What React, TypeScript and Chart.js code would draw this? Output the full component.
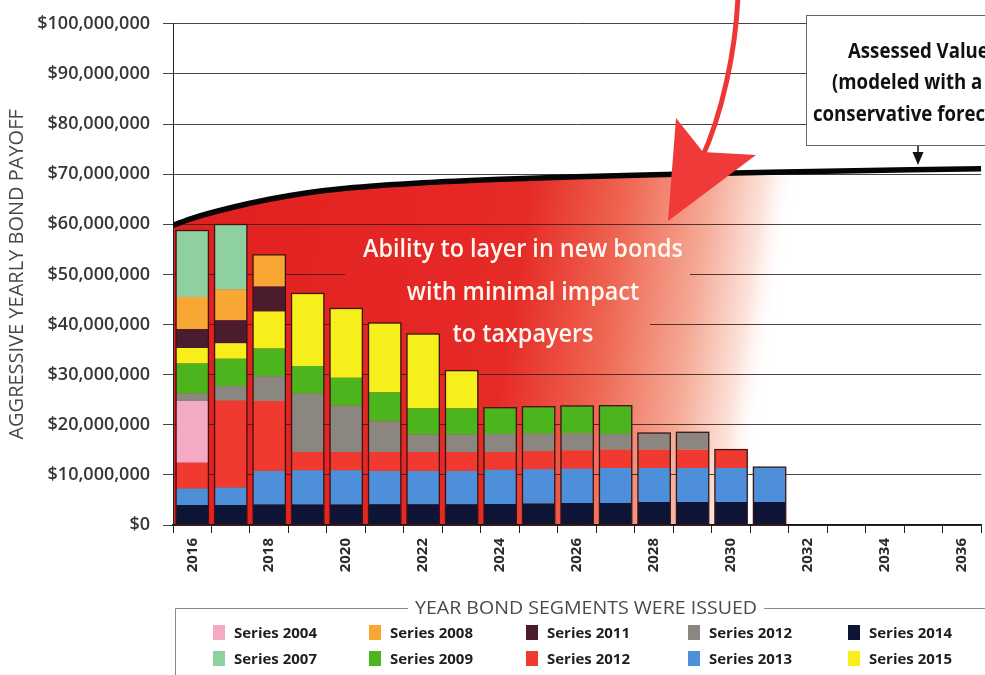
import React, { useEffect, useRef } from 'react';
import { Chart, registerables } from 'chart.js';

Chart.register(...registerables);

// ---------- data (values in millions of dollars) ----------
const years = ['2016', '2017', '2018', '2019', '2020', '2021', '2022', '2023', '2024', '2025', '2026',
  '2027', '2028', '2029', '2030', '2031', '2032', '2033', '2034', '2035', '2036'];

// stacked bottom -> top
const series2014 = [4.0, 4.0, 4.1, 4.1, 4.1, 4.15, 4.15, 4.15, 4.2, 4.3, 4.4, 4.4, 4.6, 4.6, 4.6, 4.6];
const series2013 = [3.3, 3.5, 6.65, 6.8, 6.8, 6.6, 6.6, 6.6, 6.8, 6.8, 6.8, 6.95, 6.75, 6.75, 6.75, 6.95];
const series2012Red = [5.1, 17.3, 14.0, 3.6, 3.6, 3.75, 3.75, 3.75, 3.5, 3.6, 3.65, 3.65, 3.65, 3.65, 3.7];
const series2004 = [12.35];
const series2012Gray = [1.45, 2.95, 4.95, 11.7, 9.3, 6.2, 3.5, 3.5, 3.65, 3.5, 3.4, 3.15, 3.35, 3.5];
const series2009 = [6.0, 5.4, 5.5, 5.5, 5.6, 5.8, 5.3, 5.3, 5.25, 5.4, 5.5, 5.65];
const series2015 = [3.1, 3.1, 7.4, 14.5, 13.8, 13.8, 14.8, 7.5];
const series2011 = [3.8, 4.6, 5.0];
const series2008 = [6.4, 6.1, 6.3];
const series2007 = [13.25, 13.0];

const seriesLabels = ['Series 2014', 'Series 2013', 'Series 2012', 'Series 2004', 'Series 2012',
  'Series 2009', 'Series 2015', 'Series 2011', 'Series 2008', 'Series 2007'];
const seriesData = [series2014, series2013, series2012Red, series2004, series2012Gray,
  series2009, series2015, series2011, series2008, series2007];

// assessed value curve
const assessedYears = [2015.5, 2016, 2017, 2018, 2019, 2020, 2022, 2024, 2026, 2028, 2031, 2036.5];
const assessedValues = [59.8, 61.2, 63.3, 65.0, 66.3, 67.2, 68.3, 69.0, 69.5, 69.9, 70.4, 71.1];

const yTickStep = 10;
const yMax = 100;

// ---------- styles ----------
const seriesColors = ['#0e1436', '#4d8fd8', '#f0392f', '#f4a9c4', '#8c8680',
  '#4cb51d', '#f6ef1c', '#4a1c2e', '#f8a634', '#8fd0a0'];
// legend grid: [column][row] -> dataset index
const legendLayout = [[3, 9], [8, 5], [7, 2], [4, 1], [0, 6]];
const FONT = '"Open Sans", "DejaVu Sans", sans-serif';

function redGradient(ctx: CanvasRenderingContext2D, chart: any) {
  const xs = chart.scales.x2;
  const x0 = xs.getPixelForValue(2015.5);
  const x1 = xs.getPixelForValue(2030.9);
  const g = ctx.createLinearGradient(x0, 300, x1, 300 + (x1 - x0) * 0.15);
  g.addColorStop(0, 'rgb(224,32,32)');
  g.addColorStop(0.56, 'rgb(230,42,38)');
  g.addColorStop(0.72, 'rgb(238,102,82)');
  g.addColorStop(0.86, 'rgb(245,170,150)');
  g.addColorStop(0.95, 'rgb(252,228,220)');
  g.addColorStop(1, 'rgba(255,255,255,0)');
  return g;
}

function scaleFor(ctx: CanvasRenderingContext2D, font: string, sample: string, target: number) {
  ctx.save();
  ctx.font = font;
  const w = ctx.measureText(sample).width;
  ctx.restore();
  return target / w;
}

function drawText(ctx: CanvasRenderingContext2D, text: string, x: number, y: number, font: string,
  sx: number, color: string, align: 'left' | 'center' = 'left') {
  ctx.save();
  ctx.font = font;
  ctx.fillStyle = color;
  ctx.textAlign = 'left';
  ctx.textBaseline = 'alphabetic';
  const w = ctx.measureText(text).width * sx;
  const left = align === 'center' ? x - w / 2 : x;
  ctx.translate(left, y);
  ctx.scale(sx, 1);
  ctx.fillText(text, 0, 0);
  ctx.restore();
  return w;
}

const decorPlugin = {
  id: 'decor',
  beforeDatasetsDraw(chart: any) {
    const ctx = chart.ctx as CanvasRenderingContext2D;
    const y = chart.scales.y;
    ctx.save();
    ctx.fillStyle = redGradient(ctx, chart);
    // text backgrounds hide the grid lines behind the annotation
    ctx.fillRect(345, y.getPixelForValue(59), 345, y.getPixelForValue(47) - y.getPixelForValue(59));
    ctx.fillRect(402, y.getPixelForValue(45), 248, y.getPixelForValue(37.5) - y.getPixelForValue(45));
    ctx.restore();
  },
  afterDatasetsDraw(chart: any) {
    const ctx = chart.ctx as CanvasRenderingContext2D;
    // outline each stacked bar
    const metas = chart.getSortedVisibleDatasetMetas().filter((m: any) => m.type === 'bar');
    ctx.save();
    ctx.strokeStyle = '#3b1410';
    ctx.lineWidth = 1.3;
    for (let i = 0; i < years.length; i++) {
      let top = Infinity, bottom = -Infinity, x: number | null = null, w = 0;
      for (const m of metas) {
        const el = m.data[i];
        const v = chart.data.datasets[m.index].data[i];
        if (!el || !v) continue;
        top = Math.min(top, el.y, el.base);
        bottom = Math.max(bottom, el.y, el.base);
        x = el.x; w = el.width;
      }
      if (x !== null) ctx.strokeRect(x - w / 2, top, w, bottom - top);
    }
    ctx.restore();

    // annotation text in red area
    const wf = `600 26px ${FONT}`;
    const s1 = scaleFor(ctx, wf, 'Ability to layer in new bonds', 320);
    drawText(ctx, 'Ability to layer in new bonds', 523, 257, wf, s1, '#fff7f2', 'center');
    drawText(ctx, 'with minimal impact', 523, 300, wf, s1, '#fff7f2', 'center');
    drawText(ctx, 'to taxpayers', 523, 342, wf, s1, '#fff7f2', 'center');

    // assessed value box
    ctx.save();
    ctx.fillStyle = '#ffffff';
    ctx.fillRect(806, 15, 220, 131);
    ctx.strokeStyle = '#666';
    ctx.lineWidth = 1;
    ctx.strokeRect(806.5, 15.5, 220, 130);
    ctx.restore();
    const bf = `700 21px ${FONT}`;
    const s2 = scaleFor(ctx, bf, 'conservative forec', 172);
    drawText(ctx, 'Assessed Value', 848, 58, bf, s2, '#111');
    drawText(ctx, '(modeled with a', 832, 89, bf, s2, '#111');
    drawText(ctx, 'conservative forecast)', 813, 121, bf, s2, '#111');
    // small arrow
    ctx.save();
    ctx.strokeStyle = '#111';
    ctx.fillStyle = '#111';
    ctx.lineWidth = 1.5;
    ctx.beginPath();
    ctx.moveTo(918, 146);
    ctx.lineTo(918, 156);
    ctx.stroke();
    ctx.beginPath();
    ctx.moveTo(912.5, 152);
    ctx.lineTo(923.5, 152);
    ctx.lineTo(918, 165);
    ctx.closePath();
    ctx.fill();
    ctx.restore();

    // big red arrow
    ctx.save();
    ctx.strokeStyle = '#ee3636';
    ctx.lineWidth = 5;
    ctx.beginPath();
    ctx.moveTo(738, -5);
    ctx.bezierCurveTo(736, 50, 722, 115, 701, 160);
    ctx.stroke();
    ctx.fillStyle = '#f03a3a';
    ctx.beginPath();
    ctx.moveTo(676, 118);
    ctx.lineTo(703, 152);
    ctx.lineTo(756, 155);
    ctx.lineTo(668, 221);
    ctx.closePath();
    ctx.fill();
    ctx.restore();
  },
  afterDraw(chart: any) {
    const ctx = chart.ctx as CanvasRenderingContext2D;
    // legend title and frame
    const tf = `400 18px ${FONT}`;
    const st = scaleFor(ctx, tf, 'YEAR BOND SEGMENTS WERE ISSUED', 342);
    const tw = drawText(ctx, 'YEAR BOND SEGMENTS WERE ISSUED', 586, 614, tf, st, '#4a4a4a', 'center');
    ctx.save();
    ctx.strokeStyle = '#8a8a8a';
    ctx.lineWidth = 1;
    ctx.beginPath();
    ctx.moveTo(175.5, 680);
    ctx.lineTo(175.5, 608.5);
    ctx.lineTo(586 - tw / 2 - 7, 608.5);
    ctx.moveTo(586 + tw / 2 + 7, 608.5);
    ctx.lineTo(990, 608.5);
    ctx.stroke();
    ctx.restore();

    const lf = `700 14px ${FONT}`;
    const sl = scaleFor(ctx, lf, 'Series 2004', 83);
    const colX = [213, 369, 526, 688, 848];
    const rowY = [633, 659];
    legendLayout.forEach((col, ci) => {
      col.forEach((di, ri) => {
        const ds = chart.data.datasets[di];
        ctx.save();
        ctx.fillStyle = ds.backgroundColor;
        ctx.fillRect(colX[ci], rowY[ri] - 8, 12, 15);
        ctx.restore();
        drawText(ctx, ds.label, colX[ci] + 21, rowY[ri] + 5, lf, sl, '#1e1e1e');
      });
    });
  },
};

export default function App() {
  const ref = useRef<HTMLCanvasElement>(null);
  useEffect(() => {
    const barSets = seriesData.map((d, i) => ({
      type: 'bar' as const,
      label: seriesLabels[i],
      data: d,
      backgroundColor: seriesColors[i],
      borderWidth: 0,
      barPercentage: 0.84,
      categoryPercentage: 1,
      grouped: false,
      stack: 'bonds',
      order: 1,
    }));
    const lineSet = {
      type: 'line' as const,
      label: 'Assessed Value',
      data: assessedYears.map((x, i) => ({ x, y: assessedValues[i] })),
      xAxisID: 'x2',
      borderColor: '#050505',
      borderWidth: 5.5,
      pointRadius: 0,
      cubicInterpolationMode: 'monotone' as const,
      fill: 'origin',
      backgroundColor: (c: any) => {
        const ch = c.chart;
        if (!ch.chartArea || !ch.scales.x2) return 'rgba(0,0,0,0)';
        return redGradient(ch.ctx, ch);
      },
      stack: 'assessed',
      order: 0,
    };
    const chart = new Chart(ref.current as HTMLCanvasElement, {
      type: 'bar',
      data: { labels: years, datasets: [...barSets, lineSet] as any },
      options: {
        animation: false,
        responsive: false,
        devicePixelRatio: 1,
        events: [],
        layout: { padding: { top: 20, right: 0, left: 0, bottom: 0 } },
        plugins: {
          legend: { display: false },
          tooltip: { enabled: false },
          filler: { drawTime: 'beforeDraw' } as any,
        },
        scales: {
          x: {
            stacked: true,
            offset: true,
            grid: { drawOnChartArea: false, drawTicks: true, tickLength: 8, color: '#222', offset: true },
            border: { display: true, color: '#111', width: 1.5 },
            ticks: {
              autoSkip: false,
              minRotation: 90,
              maxRotation: 90,
              padding: 5,
              color: '#2b2b2b',
              font: { family: FONT, size: 15, weight: 'bold' },
              callback: (_v: any, i: number) => (i % 2 === 0 ? years[i] : ''),
            },
            afterFit: (s: any) => { s.height = 150; },
          },
          x2: {
            type: 'linear',
            display: false,
            offset: false,
            grid: { offset: false },
            bounds: 'data',
            min: 2015.5,
            max: 2036.5,
          },
          y: {
            stacked: true,
            min: 0,
            max: yMax,
            grid: { color: 'rgba(50,32,30,0.85)', lineWidth: 1, drawTicks: true, tickLength: 10 },
            border: { display: true, color: '#222', width: 1 },
            ticks: {
              stepSize: yTickStep,
              padding: 13,
              color: '#363636',
              font: { family: FONT, size: 18, weight: 600 as any },
              callback: (v: any) => '$' + (Number(v) * 1000000).toLocaleString('en-US'),
            },
            title: {
              display: true,
              text: 'AGGRESSIVE YEARLY BOND PAYOFF',
              color: '#474747',
              font: { family: FONT, size: 20, weight: 'normal' },
              padding: { top: 5, bottom: 0 },
            },
            afterFit: (s: any) => { s.width = 173; },
          },
        } as any,
      },
      plugins: [decorPlugin],
    });
    return () => chart.destroy();
  }, []);
  return (
    <div style={{ position: 'absolute', left: 0, top: 0, width: 985, height: 675, background: '#fff', overflow: 'hidden' }}>
      <canvas ref={ref} width={985} height={675} style={{ display: 'block', width: 985, height: 675 }} />
    </div>
  );
}
